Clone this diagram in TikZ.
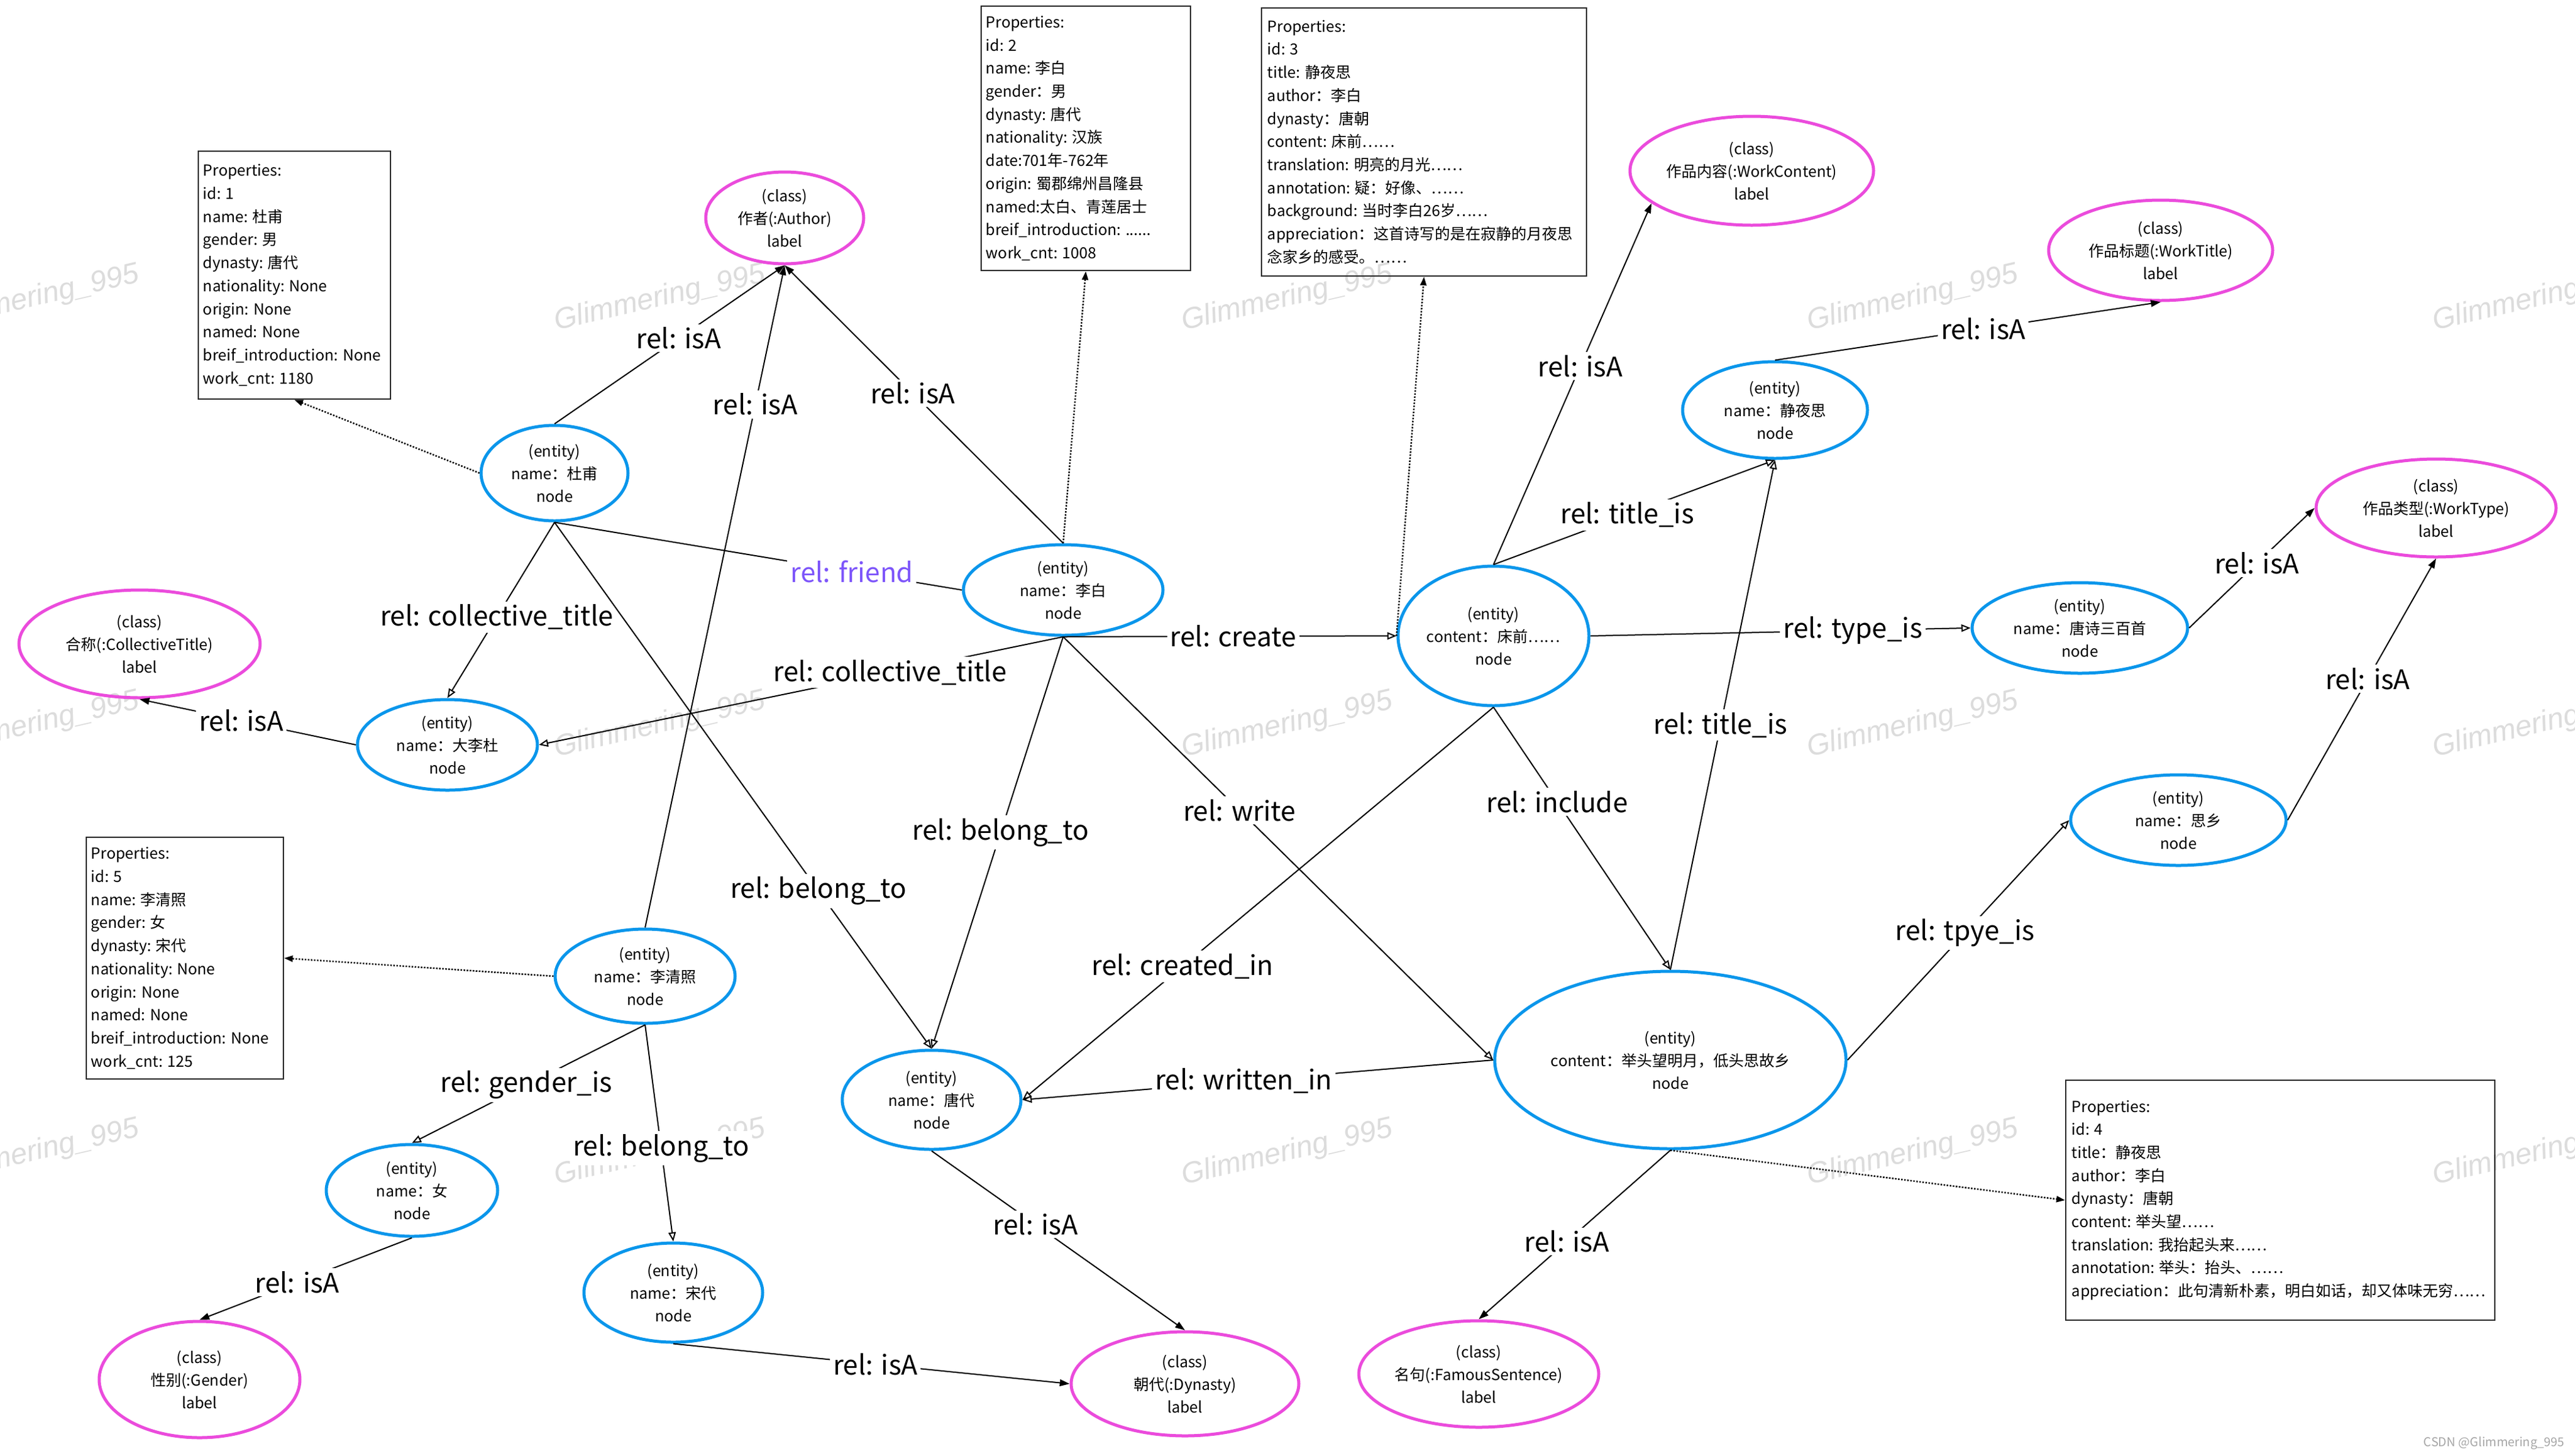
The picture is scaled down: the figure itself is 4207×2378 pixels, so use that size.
\documentclass[tikz,border=0pt]{standalone}
\usepackage{fontspec}
\setmainfont{Noto Sans CJK SC}
\newfontfamily\wmfont{Liberation Sans}
\usetikzlibrary{shapes.geometric,arrows.meta}
\definecolor{entblue}{RGB}{10,150,235}
\definecolor{clsmag}{RGB}{235,75,220}
\definecolor{friendc}{RGB}{125,85,250}
\definecolor{wmgray}{RGB}{220,220,220}
\tikzset{
  ent/.style 2 args={shape=ellipse, draw=entblue, line width=5pt, minimum width=#1, minimum height=#2, inner sep=0pt},
  cls/.style 2 args={shape=ellipse, draw=clsmag, line width=5pt, minimum width=#1, minimum height=#2, inner sep=0pt},
  intext/.style={align=center, inner sep=0pt, font=\fontsize{25}{37}\selectfont},
  propbox/.style 2 args={rectangle, draw=black!85, line width=2.5pt, minimum width=#1, minimum height=#2, inner sep=0pt},
  proptext/.style={align=left, inner sep=0pt, font=\fontsize{25}{37.7}\selectfont},
  lbl/.style={fill=white, inner sep=5pt, font=\fontsize{44}{50}\selectfont},
  relarrow/.style={line width=2pt, -{Triangle[open, length=15pt, width=12pt, line width=2pt]}},
  isaarrow/.style={line width=2pt, -{Triangle[length=16pt, width=11pt]}},
  propline/.style={line width=2.5pt, dash pattern=on 2.5pt off 2.5pt, -{Triangle[length=14pt, width=10pt]}},
  plainline/.style={line width=2pt},
  wm/.style={text=wmgray, font=\wmfont\itshape\fontsize{48}{50}\selectfont, rotate=13, inner sep=0pt},
}
\begin{document}
\begin{tikzpicture}[x=1pt,y=-1pt]
\fill[white] (0,0) rectangle (4207,2378);
\useasboundingbox (0,0) rectangle (4207,2378);
% watermarks
\foreach \wx in {55,1078,2103,3125,4147}{
  \foreach \wy in {488,1185,1884}{
    \node[wm] at (\wx,\wy) {Glimmering\_995};
  }
}
\node[text=black!35, font=\fontsize{20}{22}\selectfont, anchor=east, inner sep=0pt] (csdn) at (4190,2358) {CSDN @Glimmering\_995};

% property boxes
\node[propbox={314pt}{405pt}] (p1) at (481,449.5) {};
\node[proptext, anchor=west] (p1t) at ([xshift=9pt]p1.west) {Properties:\\id: 1\\name: 杜甫\\gender: 男\\dynasty: 唐代\\nationality: None\\origin: None\\named: None\\breif\_introduction: None\\work\_cnt: 1180};
\node[propbox={342pt}{432pt}] (p2) at (1774,226) {};
\node[proptext, anchor=west] (p2t) at ([xshift=9pt]p2.west) {Properties:\\id: 2\\name: 李白\\gender：男\\dynasty: 唐代\\nationality: 汉族\\date:701年-762年\\origin: 蜀郡绵州昌隆县\\named:太白、青莲居士\\breif\_introduction: ......\\work\_cnt: 1008};
\node[propbox={531pt}{438pt}] (p3) at (2326.5,232) {};
\node[proptext, anchor=west] (p3t) at ([xshift=11pt]p3.west) {Properties:\\id: 3\\title: 静夜思\\author：李白\\dynasty：唐朝\\content: 床前……\\translation: 明亮的月光……\\annotation: 疑：好像、……\\background: 当时李白26岁……\\appreciation：这首诗写的是在寂静的月夜思\\念家乡的感受。……};
\node[propbox={701pt}{392pt}] (p4) at (3725.5,1961) {};
\node[proptext, anchor=west] (p4t) at ([xshift=11pt]p4.west) {Properties:\\id: 4\\title：静夜思\\author：李白\\dynasty：唐朝\\content: 举头望……\\translation: 我抬起头来……\\annotation: 举头：抬头、……\\appreciation：此句清新朴素，明白如话，却又体味无穷……};
\node[propbox={322pt}{395pt}] (p5) at (302,1565.5) {};
\node[proptext, anchor=west] (p5t) at ([xshift=9pt]p5.west) {Properties:\\id: 5\\name: 李清照\\gender: 女\\dynasty: 宋代\\nationality: None\\origin: None\\named: None\\breif\_introduction: None\\work\_cnt: 125};

% entity nodes
\node[ent={240pt}{156pt}, label={[intext]center:{(entity)\\name：杜甫\\node}}] (dufu) at (906,773) {};
\node[ent={326pt}{148pt}, label={[intext]center:{(entity)\\name：李白\\node}}] (libai) at (1737,964) {};
\node[ent={294pt}{148pt}, label={[intext]center:{(entity)\\name：大李杜\\node}}] (dalidu) at (731,1217) {};
\node[ent={294pt}{154pt}, label={[intext]center:{(entity)\\name：李清照\\node}}] (lqz) at (1054,1595) {};
\node[ent={280pt}{150pt}, label={[intext]center:{(entity)\\name：女\\node}}] (nv) at (673,1945) {};
\node[ent={292pt}{162pt}, label={[intext]center:{(entity)\\name：宋代\\node}}] (songdai) at (1100,2112) {};
\node[ent={292pt}{162pt}, label={[intext]center:{(entity)\\name：唐代\\node}}] (tangdai) at (1522,1797) {};
\node[ent={312pt}{228pt}, label={[intext]center:{(entity)\\content：床前……\\node}}] (cq) at (2440,1039) {};
\node[ent={302pt}{158pt}, label={[intext]center:{(entity)\\name：静夜思\\node}}] (jys) at (2900,670) {};
\node[ent={352pt}{148pt}, label={[intext]center:{(entity)\\name：唐诗三百首\\node}}] (tangshi) at (3398,1026) {};
\node[ent={352pt}{148pt}, label={[intext]center:{(entity)\\name：思乡\\node}}] (sixiang) at (3559,1340) {};
\node[ent={574pt}{290pt}, label={[intext]center:{(entity)\\content：举头望明月，低头思故乡\\node}}] (jutou) at (2729,1732) {};

% class nodes
\node[cls={258pt}{150pt}, label={[intext]center:{(class)\\作者(:Author)\\label}}] (author) at (1282,356) {};
\node[cls={394pt}{176pt}, label={[intext]center:{(class)\\合称(:CollectiveTitle)\\label}}] (ct) at (228,1052) {};
\node[cls={328pt}{190pt}, label={[intext]center:{(class)\\性别(:Gender)\\label}}] (gender) at (326,2254) {};
\node[cls={372pt}{170pt}, label={[intext]center:{(class)\\朝代(:Dynasty)\\label}}] (dynasty) at (1936,2261) {};
\node[cls={392pt}{174pt}, label={[intext]center:{(class)\\名句(:FamousSentence)\\label}}] (famous) at (2416,2245) {};
\node[cls={398pt}{178pt}, label={[intext]center:{(class)\\作品内容(:WorkContent)\\label}}] (wc) at (2862,279) {};
\node[cls={366pt}{164pt}, label={[intext]center:{(class)\\作品标题(:WorkTitle)\\label}}] (wt) at (3530,409) {};
\node[cls={392pt}{160pt}, label={[intext]center:{(class)\\作品类型(:WorkType)\\label}}] (wtype) at (3980,830) {};

% property links
\draw[propline] (dufu.west) -- (p1.south);
\draw[propline] (libai.north) -- (p2.south);
\draw[propline] (cq.west) -- (p3.south);
\draw[propline] (jutou.south) -- (p4.west);
\draw[propline] (lqz.west) -- (p5.east);

% isA
\draw[isaarrow] (dufu.north) -- node[lbl,pos=0.54]{rel: isA} (author.south);
\draw[isaarrow] (lqz.north) -- node[lbl,pos=0.79]{rel: isA} (author.south);
\draw[isaarrow] (libai.north) -- node[lbl,pos=0.54]{rel: isA} (author.south);
\draw[isaarrow] (dalidu.west) -- node[lbl,pos=0.53]{rel: isA} (ct.south);
\draw[isaarrow] (nv.south) -- node[lbl,pos=0.54]{rel: isA} (gender.north);
\draw[isaarrow] (tangdai.south) -- node[lbl,pos=0.41]{rel: isA} (dynasty.north);
\draw[isaarrow] (songdai.south) -- node[lbl,pos=0.51]{rel: isA} (dynasty.west);
\draw[isaarrow] (jutou.south) -- node[lbl,pos=0.54]{rel: isA} (famous.north);
\draw[isaarrow] (cq.north) -- node[lbl,pos=0.55]{rel: isA} (wc.198);
\draw[isaarrow] (jys.north) -- node[lbl,pos=0.54]{rel: isA} (wt.south);
\draw[isaarrow] (tangshi.east) -- node[lbl,pos=0.54]{rel: isA} (wtype.west);
\draw[isaarrow] (sixiang.east) -- node[lbl,pos=0.54]{rel: isA} (wtype.south);

% friend
\draw[plainline] (dufu.south) -- node[lbl,text=friendc,pos=0.73]{rel: friend} (libai.west);

% relations
\draw[relarrow] (dufu.south) -- node[lbl,pos=0.54]{rel: collective\_title} (dalidu.north);
\draw[relarrow] (libai.south) -- node[lbl,pos=0.33]{rel: collective\_title} (dalidu.east);
\draw[relarrow] (dufu.south) -- node[lbl,pos=0.70]{rel: belong\_to} (tangdai.north);
\draw[relarrow] (libai.south) -- node[lbl,pos=0.475]{rel: belong\_to} (tangdai.north);
\draw[relarrow] (libai.south) -- node[lbl,pos=0.51]{rel: create} (cq.west);
\draw[relarrow] (libai.south) -- node[lbl,pos=0.41]{rel: write} (jutou.west);
\draw[relarrow] (cq.north) -- node[lbl,pos=0.475]{rel: title\_is} (jys.south);
\draw[relarrow] (jutou.north) -- node[lbl,pos=0.48]{rel: title\_is} (jys.south);
\draw[relarrow] (cq.east) -- node[lbl,pos=0.69]{rel: type\_is} (tangshi.west);
\draw[relarrow] (jutou.east) -- node[lbl,pos=0.53]{rel: tpye\_is} (sixiang.west);
\draw[relarrow] (cq.south) -- node[lbl,pos=0.36]{rel: include} (jutou.north);
\draw[relarrow] (cq.south) -- node[lbl,pos=0.66]{rel: created\_in} (tangdai.east);
\draw[relarrow] (jutou.west) -- node[lbl,pos=0.53]{rel: written\_in} (tangdai.east);
\draw[relarrow] (lqz.south) -- node[lbl,pos=0.51]{rel: gender\_is} (nv.north);
\draw[relarrow] (lqz.south) -- node[lbl,pos=0.57]{rel: belong\_to} (songdai.north);
\end{tikzpicture}
\end{document}
